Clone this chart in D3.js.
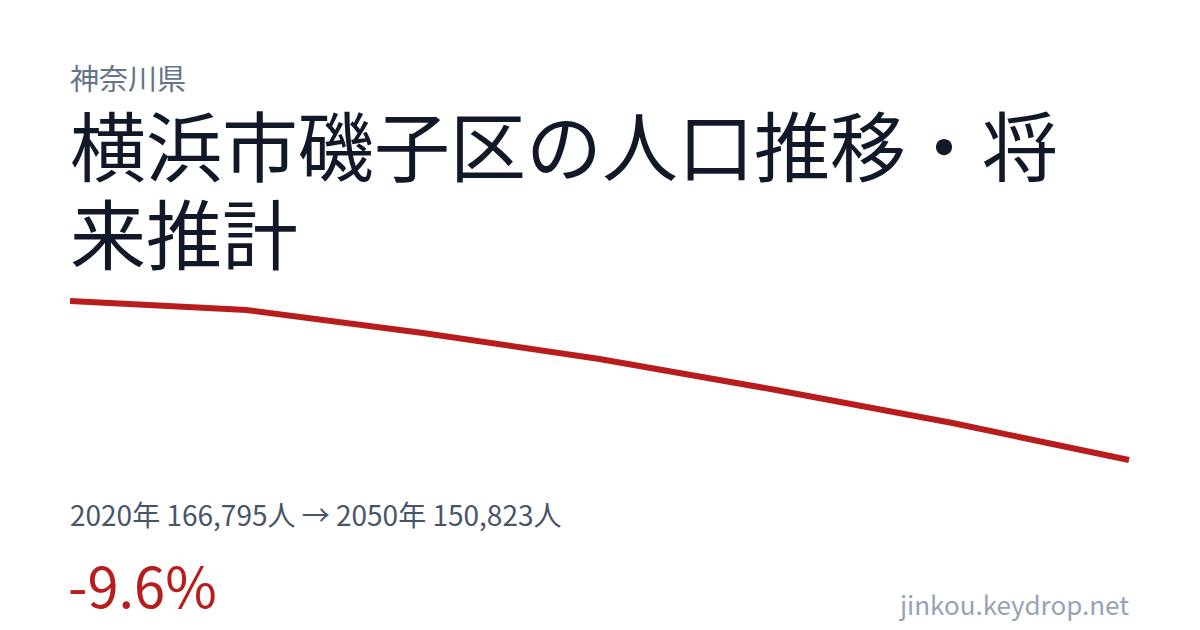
<!DOCTYPE html>
<html lang="ja">
<head>
  <meta charset="UTF-8">
  <title>横浜市磯子区の人口推移・将来推計</title>
  <script src="https://cdn.jsdelivr.net/npm/d3@7"></script>
  <style>
    html, body { margin: 0; padding: 0; background: #fff; }
    svg { display: block; font-family: "Noto Sans CJK JP", "Noto Sans", sans-serif; }
  </style>
</head>
<body>
</body>
</html>
<script>
  // データ
  const prefecture = "神奈川県";
  const title = "横浜市磯子区の人口推移・将来推計";
  const years = [2020, 2025, 2030, 2035, 2040, 2045, 2050];
  const population = [166795, 165890, 163580, 160970, 157860, 154540, 150823];
  const site = "jinkou.keydrop.net";

  const w = 1200, h = 630;
  const left = 70, right = 1129;

  const svg = d3.select("body").append("svg").attr("width", w).attr("height", h);

  // 県名
  svg.append("text").attr("x", left).attr("y", 90)
    .attr("font-size", 29).attr("fill", "#64748b").text(prefecture);

  // タイトル(折り返し)
  const titleText = svg.append("text").attr("x", left).attr("y", 176)
    .attr("font-size", 76).attr("fill", "#111827");
  let line = "", lines = [];
  const probe = svg.append("text").attr("font-size", 76).attr("visibility", "hidden");
  for (const ch of title) {
    probe.text(line + ch);
    if (probe.node().getComputedTextLength() > right - left + 4 && line) {
      lines.push(line);
      line = ch;
    } else {
      line += ch;
    }
  }
  lines.push(line);
  probe.remove();
  titleText.selectAll("tspan").data(lines).enter().append("tspan")
    .attr("x", left).attr("dy", (d, i) => i ? 88 : 0).text(d => d);

  // 折れ線
  const x = d3.scaleLinear().domain(d3.extent(years)).range([left, right]);
  const y = d3.scaleLinear().domain(d3.extent(population)).range([460, 301]);
  const data = years.map((d, i) => ({ year: d, value: population[i] }));

  svg.append("path").datum(data)
    .attr("fill", "none").attr("stroke", "#b91c1c").attr("stroke-width", 6)
    .attr("d", d3.line().x(d => x(d.year)).y(d => y(d.value)));

  // 数値
  const fmt = d3.format(",");
  const first = data[0], last = data[data.length - 1];
  svg.append("text").attr("x", left).attr("y", 526)
    .attr("font-size", 28).attr("fill", "#475569")
    .text(first.year + "年 " + fmt(first.value) + "人 → " + last.year + "年 " + fmt(last.value) + "人");

  const change = (last.value - first.value) / first.value * 100;
  svg.append("text").attr("x", left - 2).attr("y", 608)
    .attr("font-size", 56).attr("fill", "#b91c1c")
    .text((change > 0 ? "+" : "") + change.toFixed(1) + "%");

  svg.append("text").attr("x", right).attr("y", 615).attr("text-anchor", "end")
    .attr("font-size", 26).attr("fill", "#94a3b8").text(site);
</script>
